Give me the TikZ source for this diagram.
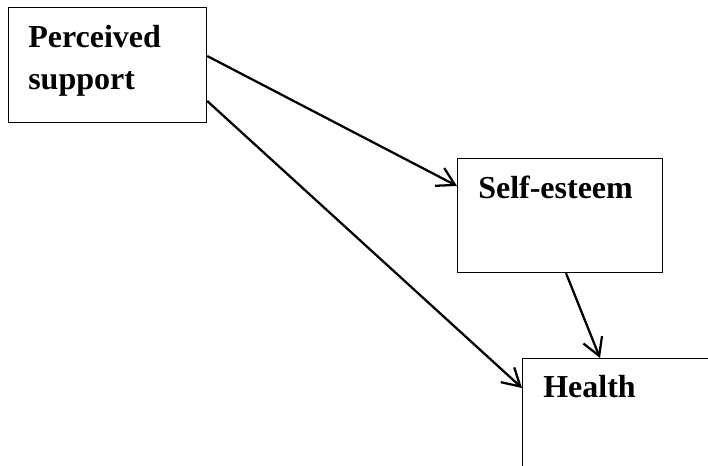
\documentclass[tikz,border=0pt]{standalone}
\usepackage{fontspec}
\setmainfont{Liberation Serif}
\usetikzlibrary{arrows.meta}
\begin{document}
\begin{tikzpicture}[x=0.75pt,y=-0.75pt,
  box/.style={draw,line width=0.9pt,inner sep=0pt,anchor=north west},
  lbl/.style={anchor=base west,inner sep=0pt,font=\fontsize{24}{32}\selectfont\bfseries,align=left},
  arr/.style={line width=1.7pt,-{Straight Barb[length=13pt,width=15pt,line width=1.7pt]}}]
\clip (0,0) rectangle (708,466);
\fill[white] (0,0) rectangle (708,466);
\node[box,minimum width=198*0.75pt,minimum height=115*0.75pt] (ps) at (8,7) {};
\node[box,minimum width=205*0.75pt,minimum height=114*0.75pt] (se) at (457,158) {};
\node[box,minimum width=230*0.75pt,minimum height=150*0.75pt] (he) at (522,358) {};
\node[lbl] (t1) at (28,90) {Perceived\\support};
\node[lbl] (t2) at (478,199) {Self-esteem};
\node[lbl] (t3) at (543,398) {Health};
\coordinate (p1) at ([yshift=-49*0.75pt]ps.north east);
\coordinate (p2) at ([yshift=-94*0.75pt]ps.north east);
\coordinate (s1) at ([yshift=-28*0.75pt]se.north west);
\coordinate (s2) at ([xshift=109*0.75pt]se.south west);
\coordinate (h1) at ([yshift=-30*0.75pt]he.north west);
\coordinate (h2) at ([xshift=78*0.75pt]he.north west);
\draw[arr] (p1) -- (s1);
\draw[arr] (p2) -- (h1);
\draw[arr] (s2) -- (h2);
\end{tikzpicture}
\end{document}
